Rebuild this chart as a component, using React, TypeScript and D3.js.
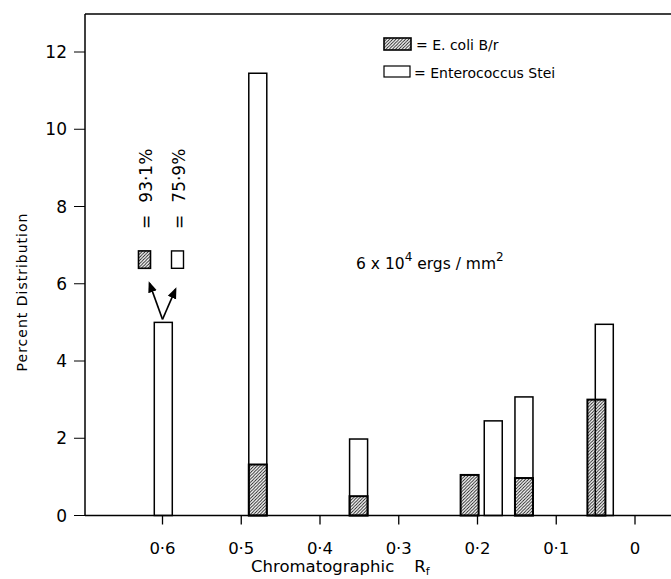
import React from "react";
import * as d3 from "d3";

const yTicks = [0, 2, 4, 6, 8, 10, 12];
const xTicks = [0.6, 0.5, 0.4, 0.3, 0.2, 0.1, 0];
const xTickLabels = ["0·6", "0·5", "0·4", "0·3", "0·2", "0·1", "0"];

// Enterococcus Stei (open bars)
const enteroRf = [0.599, 0.479, 0.351, 0.18, 0.141, 0.039];
const enteroPct = [5.0, 11.45, 1.98, 2.45, 3.07, 4.95];
// E. coli B/r (hatched bars)
const ecoliRf = [0.479, 0.351, 0.21, 0.141, 0.049];
const ecoliPct = [1.32, 0.5, 1.05, 0.97, 3.0];

const ecoliShare = "93·1%";
const enteroShare = "75·9%";
const legendLabels = ["= E. coli B/r", "= Enterococcus Stei"];

const W = 671;
const H = 579;
const FONT = "'DejaVu Sans', Verdana, sans-serif";

export default function App() {
  const left = 85;
  const top = 14;
  const x = d3.scaleLinear().domain([0.6, 0]).range([162.5, 635]);
  const y = d3.scaleLinear().domain([0, 12]).range([515.5, 52]);
  const bw = 18;
  const y0 = y(0);

  const arrowStartX = x(0.6);
  const arrowStartY = y(5) - 3;
  const swY = y(6.85);
  const swH = y(6.4) - y(6.85);

  return (
    <div style={{ position: "fixed", left: 0, top: 0, width: W, height: H, overflow: "hidden", background: "#fff" }}>
      <svg width={W} height={H} style={{ display: "block" }}>
        <defs>
          <pattern id="hatch" patternUnits="userSpaceOnUse" width="3.2" height="3.2">
            <path d="M-1,1 l2,-2 M0,3.2 l3.2,-3.2 M2.2,4.2 l2,-2" stroke="#111" strokeWidth="0.9" />
          </pattern>
          <marker id="arr" viewBox="0 0 10 10" refX="8" refY="5" markerWidth="7" markerHeight="7" orient="auto">
            <path d="M0,1 L10,5 L0,9 Z" fill="#000" />
          </marker>
        </defs>

        {/* y ticks */}
        {yTicks.map((t) => (
          <g key={"y" + t}>
            <line x1={left - 11} x2={left} y1={y(t)} y2={y(t)} stroke="#000" strokeWidth={1} />
            <text x={left - 18} y={y(t)} dy="0.36em" textAnchor="end" fontFamily={FONT} fontSize={17} fill="#000">
              {t}
            </text>
          </g>
        ))}
        <text
          transform={`translate(27,${292}) rotate(-90)`}
          textAnchor="middle"
          fontFamily={FONT}
          fontSize={14}
          letterSpacing={1}
          fill="#000"
        >
          Percent Distribution
        </text>

        {/* x ticks */}
        {xTicks.map((t, i) => (
          <g key={"x" + t}>
            <line x1={x(t)} x2={x(t)} y1={y0} y2={y0 + 9} stroke="#000" strokeWidth={1.3} />
            <text x={x(t)} y={y0 + 38} textAnchor="middle" fontFamily={FONT} fontSize={16.5} fill="#000">
              {xTickLabels[i]}
            </text>
          </g>
        ))}
        <text x={251} y={572} fontFamily={FONT} fontSize={16.5} fill="#000">
          Chromatographic
          <tspan dx={20}>R</tspan>
          <tspan fontSize={11} dy={3}>f</tspan>
        </text>

        {/* open bars */}
        {enteroRf.map((r, i) => (
          <rect
            key={"e" + i}
            x={x(r) - bw / 2}
            y={y(enteroPct[i])}
            width={bw}
            height={y0 - y(enteroPct[i])}
            fill="#fff"
            stroke="#000"
            strokeWidth={1.5}
          />
        ))}
        {/* hatched bars */}
        {ecoliRf.map((r, i) => (
          <rect
            key={"c" + i}
            x={x(r) - bw / 2}
            y={y(ecoliPct[i])}
            width={bw}
            height={y0 - y(ecoliPct[i])}
            fill="url(#hatch)"
            stroke="#000"
            strokeWidth={2}
          />
        ))}

        {/* annotation */}
        <line x1={arrowStartX} y1={arrowStartY} x2={arrowStartX - 13} y2={arrowStartY - 36} stroke="#000" strokeWidth={1.6} markerEnd="url(#arr)" />
        <line x1={arrowStartX} y1={arrowStartY} x2={arrowStartX + 13} y2={arrowStartY - 30} stroke="#000" strokeWidth={1.6} markerEnd="url(#arr)" />
        <rect x={x(0.6) - 24} y={swY} width={12} height={swH} fill="url(#hatch)" stroke="#000" strokeWidth={1.6} />
        <rect x={x(0.6) + 9} y={swY} width={12} height={swH} fill="#fff" stroke="#000" strokeWidth={1.4} />
        <text transform={`translate(${x(0.6) - 11},${swY - 22}) rotate(-90)`} fontFamily={FONT} fontSize={17} fill="#000">
          =<tspan dx={12}>{ecoliShare}</tspan>
        </text>
        <text transform={`translate(${x(0.6) + 22},${swY - 22}) rotate(-90)`} fontFamily={FONT} fontSize={17} fill="#000">
          =<tspan dx={12}>{enteroShare}</tspan>
        </text>

        {/* legend */}
        <rect x={384} y={38} width={27} height={12} fill="url(#hatch)" stroke="#000" strokeWidth={1.6} />
        <text x={416} y={50} fontFamily={FONT} fontSize={14} fill="#000">{legendLabels[0]}</text>
        <rect x={384} y={66} width={26} height={11} fill="#fff" stroke="#000" strokeWidth={1.2} />
        <text x={414} y={78} fontFamily={FONT} fontSize={14} fill="#000">{legendLabels[1]}</text>

        {/* dose */}
        <text x={356} y={269} fontFamily={FONT} fontSize={15.5} fill="#000">
          6 x 10<tspan fontSize={12} dy={-8}>4</tspan>
          <tspan dy={8}> ergs / mm</tspan>
          <tspan fontSize={12} dy={-8}>2</tspan>
        </text>

        {/* frame: top, left axis, bottom axis */}
        <rect x={650} y={0} width={W - 650} height={y0} fill="#fff" />
        <line x1={left} y1={top} x2={W} y2={top} stroke="#000" strokeWidth={1.5} />
        <line x1={left} y1={top} x2={left} y2={y0} stroke="#000" strokeWidth={1.5} />
        <line x1={left} y1={y0} x2={W} y2={y0} stroke="#000" strokeWidth={1.5} />
      </svg>
    </div>
  );
}
